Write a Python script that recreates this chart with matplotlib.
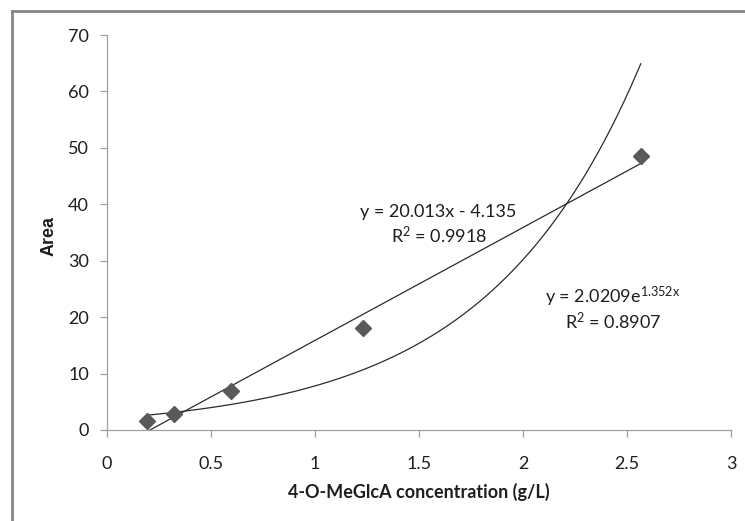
import numpy as np
import matplotlib
matplotlib.use("Agg")
import matplotlib.pyplot as plt
from matplotlib.lines import Line2D

# Data
conc = [0.192, 0.322, 0.597, 1.233, 2.566]
area = [1.6, 2.8, 6.9, 18.1, 48.6]
lin_slope, lin_int = 20.013, -4.135
exp_a, exp_b = 2.0209, 1.352
x_ticks = [0, 0.5, 1, 1.5, 2, 2.5, 3]
x_ticklabels = ["0", "0.5", "1", "1.5", "2", "2.5", "3"]
y_ticks = [0, 10, 20, 30, 40, 50, 60, 70]

FONT = "Lato"
plt.rcParams["font.family"] = [FONT, "DejaVu Sans"]
plt.rcParams["mathtext.fontset"] = "custom"
plt.rcParams["mathtext.rm"] = FONT
plt.rcParams["mathtext.it"] = FONT
plt.rcParams["mathtext.default"] = "regular"

TXT = "#1e1e1e"
FS = 13

fig = plt.figure(figsize=(7.45, 5.21), dpi=100)
ax = fig.add_axes([107/745, 1-430/521, 624/745, 395/521])

xs = np.linspace(min(conc), max(conc), 300)
ax.plot(xs, lin_slope*xs + lin_int, color="#2b2b2b", lw=0.9, zorder=2)
ax.plot(xs, exp_a*np.exp(exp_b*xs), color="#2b2b2b", lw=0.9, zorder=2)
ax.plot(conc, area, linestyle="none", marker="D", markersize=8,
        color="#595959", markeredgecolor="#595959", zorder=3)

ax.set_xlim(0, 3)
ax.set_ylim(0, 70)
ax.set_xticks(x_ticks)
ax.set_xticklabels(x_ticklabels)
ax.set_yticks(y_ticks)
for s in ["top", "right"]:
    ax.spines[s].set_visible(False)
for s in ["left", "bottom"]:
    ax.spines[s].set_color("#a0a0a0")
    ax.spines[s].set_linewidth(0.9)
ax.tick_params(axis="both", direction="out", color="#a0a0a0", length=5,
               width=0.9, labelsize=FS, labelcolor=TXT)
ax.tick_params(axis="y", pad=8)
ax.tick_params(axis="x", pad=14)

ax.set_xlabel("4-O-MeGlcA concentration (g/L)", fontsize=FS, fontweight="bold",
              color=TXT)
ax.xaxis.set_label_coords(0.5, -0.135)
ax.set_ylabel("Area", fontsize=FS, fontweight="bold", family="Liberation Sans",
              color=TXT)
ax.yaxis.set_label_coords(-0.079, 0.49)

ax.text(1.59, 38.6, "y = 20.013x - 4.135", ha="center", va="center",
        fontsize=FS, color=TXT)
ax.text(1.595, 34.4, "R$^{2}$ = 0.9918", ha="center", va="center",
        fontsize=FS, color=TXT)
ax.text(2.43, 23.6, "y = 2.0209e$^{1.352x}$", ha="center", va="center",
        fontsize=FS, color=TXT)
ax.text(2.435, 19.3, "R$^{2}$ = 0.8907", ha="center", va="center",
        fontsize=FS, color=TXT)

# outer border (left and top visible)
fig.add_artist(Line2D([12/745, 12/745], [0, 1-11/521], color="#868686", lw=2,
                      transform=fig.transFigure))
fig.add_artist(Line2D([12/745, 1], [1-11/521, 1-11/521], color="#868686", lw=2,
                      transform=fig.transFigure))

fig.savefig("out.png", dpi=100)
